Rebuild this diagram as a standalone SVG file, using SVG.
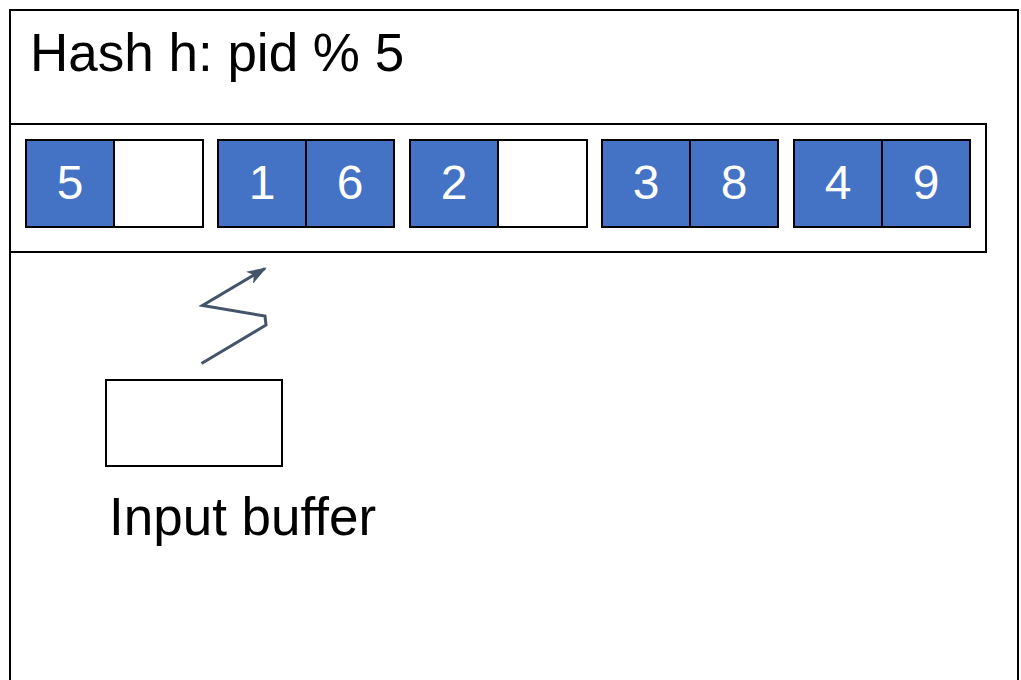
<svg xmlns="http://www.w3.org/2000/svg" width="1021" height="680" viewBox="0 0 1021 680">
<style>
.frame{fill:#fff;stroke:#000;stroke-width:2}
.cell{fill:#4472c4;stroke:#000;stroke-width:2}
.empty{fill:#fff;stroke:#000;stroke-width:2}
.num{font-family:"Liberation Sans",Arial,sans-serif;font-size:48px;fill:#fff;text-anchor:middle}
.lbl{font-family:"Liberation Sans",Arial,sans-serif;font-size:53px;fill:#000}
.conn{fill:none;stroke:#44546a;stroke-width:3;stroke-linejoin:miter}
</style>
<defs>
<marker id="arr" viewBox="0 0 20 14" refX="18" refY="7" markerWidth="20" markerHeight="14" orient="auto" markerUnits="userSpaceOnUse">
<path d="M0,0 L20,7 L0,14 L5,7 z" fill="#44546a"/>
</marker>
</defs>
<rect width="1021" height="680" fill="#fff"/>
<g id="outer"><rect class="frame" x="10" y="10" width="1008" height="690"/></g>
<g id="title"><text class="lbl" x="30" y="71">Hash h: pid % 5</text></g>
<g id="table"><rect class="frame" x="10" y="124" width="976" height="128"/></g>
<g id="bucket0">
<rect class="cell" x="26" y="140" width="88" height="87"/><text class="num" x="70" y="199">5</text>
<rect class="empty" x="114" y="140" width="89" height="87"/>
</g>
<g id="bucket1">
<rect class="cell" x="218" y="140" width="88" height="87"/><text class="num" x="262" y="199">1</text>
<rect class="cell" x="306" y="140" width="88" height="87"/><text class="num" x="350" y="199">6</text>
</g>
<g id="bucket2">
<rect class="cell" x="410" y="140" width="88" height="87"/><text class="num" x="454" y="199">2</text>
<rect class="empty" x="498" y="140" width="89" height="87"/>
</g>
<g id="bucket3">
<rect class="cell" x="602" y="140" width="88" height="87"/><text class="num" x="646" y="199">3</text>
<rect class="cell" x="690" y="140" width="88" height="87"/><text class="num" x="734" y="199">8</text>
</g>
<g id="bucket4">
<rect class="cell" x="794" y="140" width="88" height="87"/><text class="num" x="838" y="199">4</text>
<rect class="cell" x="882" y="140" width="88" height="87"/><text class="num" x="926" y="199">9</text>
</g>
<g id="input-buffer">
<rect class="empty" x="106" y="380" width="176" height="86"/>
<text class="lbl" x="109" y="535">Input buffer</text>
</g>
<g id="connectors">
<polyline class="conn" points="201.5,363.5 266,325 265,316 202.5,305.5 265,268.5" marker-end="url(#arr)"/>
</g>
</svg>
